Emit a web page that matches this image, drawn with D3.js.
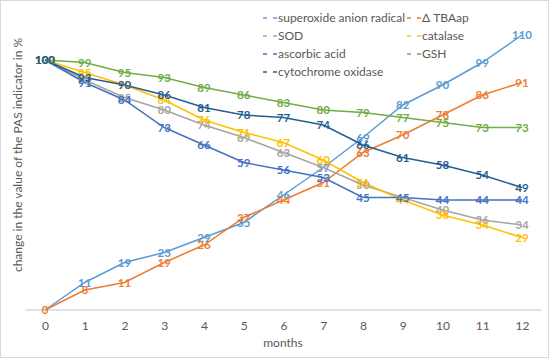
<!DOCTYPE html>
<html><head><meta charset="utf-8">
<script src="https://cdn.jsdelivr.net/npm/d3@7"></script>
<style>body{margin:0;background:#fff;} svg{display:block;}</style>
</head><body>
<svg id="c" width="550" height="359"></svg>
<script>
const months = [0,1,2,3,4,5,6,7,8,9,10,11,12];
const seriesNames = ["superoxide anion radical","Δ TBAap","SOD","catalase","ascorbic acid","GSH","cytochrome oxidase"];
const seriesColors = ["#5B9BD5","#ED7D31","#A5A5A5","#FFC000","#4472C4","#70AD47","#255E91"];
const superoxide = [0,11,19,23,29,35,46,57,69,82,90,99,110];
const tbaap = [0,8,11,19,26,37,44,51,63,70,78,86,91];
const sod = [100,92,85,80,74,69,63,57,50,45,40,36,34];
const catalase = [100,95,90,84,76,71,67,60,51,44,38,34,29];
const ascorbic = [100,91,84,73,66,59,56,53,45,45,44,44,44];
const gsh = [100,99,95,93,89,86,83,80,79,77,75,73,73];
const cytochrome = [100,93,90,86,81,78,77,74,66,61,58,54,49];
const seriesValues = [superoxide,tbaap,sod,catalase,ascorbic,gsh,cytochrome];
const hiddenLabels = {0:[0]}; // superoxide label at month 0 hidden under ΔTBAap

const svg = d3.select("#c");
const font = "Lato, 'Open Sans', sans-serif";
svg.append("rect").attr("x",0.5).attr("y",0.5).attr("width",548).attr("height",357)
  .attr("fill","#fff").attr("stroke","#D9D9D9");

const x = d3.scalePoint().domain(months).range([45,522]);
const y = d3.scaleLinear().domain([0,120]).range([310,10]);

// x axis
const xa = svg.append("g").attr("transform","translate(0,310)")
  .call(d3.axisBottom(x).tickSize(0).tickPadding(11));
xa.select(".domain").attr("d","M25.5,0H541.5").attr("stroke","#D9D9D9").attr("stroke-width",1.5);
xa.selectAll("text").attr("fill","#595959").style("font-family",font).style("font-size","12px");

svg.append("text").attr("x",283).attr("y",347).attr("text-anchor","middle")
  .attr("fill","#595959").style("font-family",font).style("font-size","12px").text("months");
svg.append("text").attr("transform","translate(22,155) rotate(-90)").attr("text-anchor","middle")
  .attr("fill","#595959").style("font-family",font).style("font-size","12px")
  .text("change in the value of the PAS indicator in %");

const line = d3.line().x((d,i)=>x(months[i])).y(d=>y(d));
seriesValues.forEach((vals,si)=>{
  svg.append("path").attr("d",line(vals)).attr("fill","none")
    .attr("stroke",seriesColors[si]).attr("stroke-width",1.5);
});
seriesValues.forEach((vals,si)=>{
  svg.append("g").selectAll("text").data(vals.map((v,i)=>({v,i})).filter(d=>!(hiddenLabels[si]||[]).includes(d.i)))
    .join("text").attr("x",d=>x(months[d.i])).attr("y",d=>y(d.v)).attr("dy","0.36em")
    .attr("text-anchor","middle").attr("fill",seriesColors[si])
    .style("font-family",font).style("font-size","11.5px").style("font-weight","bold")
    .text(d=>d.v);
});

// legend
const legPos = [[263,18],[407,18],[263,36],[407,36],[263,54],[407,54],[263,72]];
seriesNames.forEach((n,i)=>{
  const [lx,ly]=legPos[i];
  const g = svg.append("g");
  g.append("line").attr("x1",lx).attr("x2",lx+4).attr("y1",ly).attr("y2",ly).attr("stroke",seriesColors[i]).attr("stroke-width",1.5);
  g.append("line").attr("x1",lx+10).attr("x2",lx+14).attr("y1",ly).attr("y2",ly).attr("stroke",seriesColors[i]).attr("stroke-width",1.5);
  g.append("text").attr("x",lx+15).attr("y",ly).attr("dy","0.36em").attr("fill","#595959")
    .style("font-family",font).style("font-size","12px").text(n);
});
</script>
</body></html>
